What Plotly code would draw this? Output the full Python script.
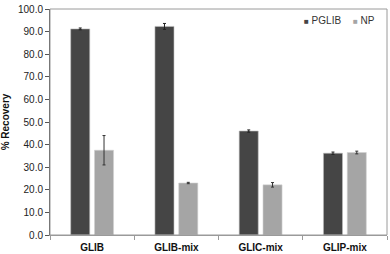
import plotly.graph_objects as go

categories = ["GLIB", "GLIB-mix", "GLIC-mix", "GLIP-mix"]
pglib = [91.2, 92.3, 46.0, 36.2]
pglib_err = [0.4, 1.3, 0.5, 0.5]
np_vals = [37.5, 23.0, 22.2, 36.5]
np_err = [6.5, 0.3, 1.0, 0.6]
yticks = [0, 10, 20, 30, 40, 50, 60, 70, 80, 90, 100]

dark = "#454545"
light = "#a5a5a5"

fig = go.Figure()
fig.add_trace(go.Bar(
    x=categories, y=pglib, name="PGLIB",
    marker=dict(color=dark, line=dict(color="#bdbdbd", width=0.6)),
    error_y=dict(type="data", array=pglib_err, color="#222222", thickness=1, width=1.5),
))
fig.add_trace(go.Bar(
    x=categories, y=np_vals, name="NP",
    marker=dict(color=light, line=dict(color="#d0d0d0", width=0.6)),
    error_y=dict(type="data", array=np_err, color="#333333", thickness=1, width=1.5),
))

legend_items = [("PGLIB", dark, 302), ("NP", light, 351)]
annotations = []
for name, col, px in legend_items:
    annotations.append(dict(
        xref="paper", yref="paper",
        x=(px - 49) / 338, y=(235 - 17) / 230,
        xanchor="left", yanchor="middle", showarrow=False,
        text=f"<span style='color:{col};font-size:8px'>■</span> {name}",
        font=dict(size=10, color="#333333"),
    ))

fig.update_layout(
    width=390, height=254,
    margin=dict(l=49, r=3, t=5, b=19),
    paper_bgcolor="white", plot_bgcolor="white",
    barmode="group", bargap=0.435, bargroupgap=0.2,
    font=dict(family="Liberation Sans, Arial", size=10, color="#222222"),
    showlegend=False,
    annotations=annotations,
    shapes=[dict(type="rect", xref="paper", yref="paper", x0=0, x1=1, y0=0, y1=1,
                 line=dict(color="#9a9a9a", width=1), layer="above")],
)
fig.update_xaxes(
    showgrid=False, showline=True, linecolor="#9a9a9a", linewidth=1,
    ticks="outside", ticklen=4, tickcolor="#9a9a9a", tickson="boundaries",
    tickfont=dict(size=10, color="#111111", family="Liberation Sans, Arial"),
    tickprefix="<b>", ticksuffix="</b>", ticklabeloverflow="allow",
    ticklabelstandoff=3, automargin=False,
)
fig.update_yaxes(
    range=[0, 100], tickvals=yticks, ticktext=[f"{v:.1f}" for v in yticks],
    showgrid=False, showline=True, linecolor="#555555", linewidth=1,
    ticks="outside", ticklen=4, tickcolor="#555555", zeroline=False,
    tickfont=dict(size=10, color="#222222"), ticklabeloverflow="allow",
    title=dict(text="<b>% Recovery</b>", font=dict(size=10, color="#111111"), standoff=8),
)
fig.write_html("out.html", config={"displayModeBar": False},
               post_script="document.body.style.margin='0';")
